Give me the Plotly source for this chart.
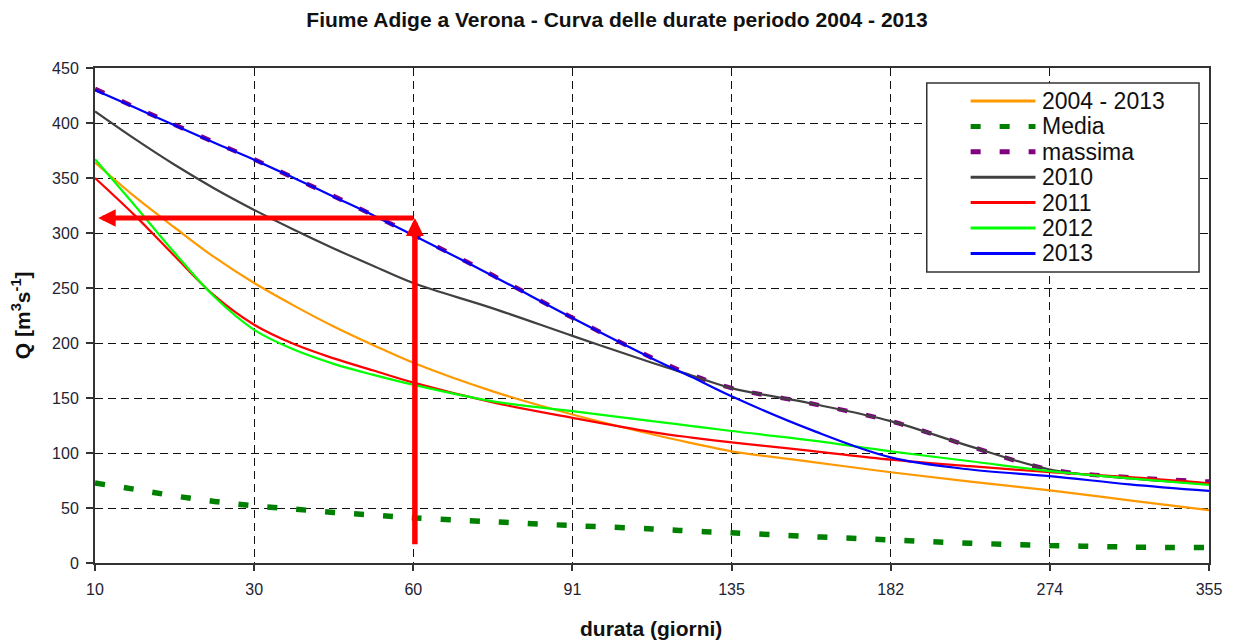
import plotly.graph_objects as go

# ---------------- data ----------------
tick_labels = ["10", "30", "60", "91", "135", "182", "274", "355"]
tick_pos = [0, 1, 2, 3, 4, 5, 6, 7]

# sample positions along the (equally spaced) duration axis
pos = [0, 0.25, 0.5, 0.75, 1, 1.25, 1.5, 1.75, 2, 2.5, 3, 3.5, 3.75, 4, 4.5, 5, 5.5, 6, 6.5, 7]

q_2004_2013 = [364, 333, 305, 278, 254.5, 234, 215, 198, 182, 156, 135, 117, 109, 101.5, 92, 82.5, 74, 66, 57, 48]
q_media = [72.7, 67, 61, 56, 52, 49, 46, 43.5, 41, 37.5, 34, 31, 29, 27.5, 24, 21, 18, 16, 14.5, 14]
q_massima = [431, 414.5, 398.5, 382.5, 367, 350, 333.5, 316, 298.5, 261.5, 223, 186.5, 171, 159, 145, 129, 106, 85, 78, 74]
q_2010 = [410.5, 385.5, 362, 340.5, 321, 303, 286, 270, 254.5, 231.5, 206.5, 182, 170.5, 159, 145, 129, 106, 85, 77, 72]
q_2011 = [350, 316, 279, 243, 216.6, 199, 186, 175, 164, 146, 132, 119, 114, 109.6, 102, 94, 88, 82.5, 78, 72.5]
q_2012 = [367, 325, 282, 242, 212, 194, 181, 171, 162, 147, 138, 129, 124.5, 120, 111.5, 101.5, 92.5, 83.5, 77, 71]
q_2013 = [430, 414, 398, 382, 366.6, 350, 333, 316, 298, 261, 222.7, 186, 169, 151.5, 121, 96, 85, 79, 71.5, 65.5]

series_names = ["2004 - 2013", "Media", "massima", "2010", "2011", "2012", "2013"]
series_values = [q_2004_2013, q_media, q_massima, q_2010, q_2011, q_2012, q_2013]
series_colors = ["#FF9900", "#008000", "#800080", "#404040", "#FF0000", "#00FF00", "#0000FF"]
series_widths = [2.2, 5.5, 4.5, 2.2, 2.2, 2.2, 2.2]
series_dash = ["solid", "10px,19px", "10px,19px", "solid", "solid", "solid", "solid"]

# red reading arrows: duration position 60 days (index 2), Q read ~314
arrow_pos = 2.01
arrow_q = 313.6
arrow_start_q = 15.7
arrow_end_pos = 0.02

FONT = "Liberation Sans, Arial, sans-serif"

fig = go.Figure()
for name, vals, col, w, d in zip(series_names, series_values, series_colors, series_widths, series_dash):
    fig.add_trace(go.Scatter(
        x=pos, y=vals, name=name, mode="lines",
        line=dict(color=col, width=w, dash=d, shape="spline", smoothing=1.0),
        showlegend=False, hoverinfo="skip",
    ))

# ---------------- layout geometry ----------------
W, H = 1234, 641
ml, mr, mt, mb = 95, 22, 68, 78
pw, ph = W - ml - mr, H - mt - mb


def px_x(p):
    return (p - ml) / pw


def px_y(p):
    return (H - mb - p) / ph


fig.update_layout(
    width=W, height=H,
    margin=dict(l=ml, r=mr, t=mt, b=mb, pad=0),
    paper_bgcolor="white", plot_bgcolor="white",
    font=dict(family=FONT, color="#222222"),
    title=dict(
        text="<b>Fiume Adige a Verona - Curva delle durate periodo 2004 - 2013</b>",
        x=0.5, xref="container", xanchor="center",
        y=1 - 20 / H, yref="container", yanchor="middle",
        font=dict(family=FONT, size=21, color="#111111"),
    ),
    xaxis=dict(
        range=[0, 7], tickmode="array", tickvals=tick_pos, ticktext=tick_labels,
        showgrid=True, gridcolor="#111111", gridwidth=1.3, griddash="8px,5px",
        showline=True, linecolor="#333333", linewidth=2, mirror=True,
        ticks="outside", ticklen=6, tickwidth=1.5, tickcolor="#333333",
        tickfont=dict(family=FONT, size=16, color="#222233"),
        ticklabelstandoff=5, zeroline=False,
    ),
    yaxis=dict(
        range=[0, 450], tickmode="linear", tick0=0, dtick=50,
        showgrid=True, gridcolor="#111111", gridwidth=1.3, griddash="8px,5px",
        showline=True, linecolor="#333333", linewidth=2, mirror=True,
        ticks="outside", ticklen=7, tickwidth=1.5, tickcolor="#333333",
        tickfont=dict(family=FONT, size=16, color="#222233"),
        ticklabelstandoff=4, zeroline=False,
    ),
)

annotations = []
shapes = []

# axis titles
annotations.append(dict(
    text="<b>durata (giorni)</b>", xref="paper", yref="paper",
    x=px_x(652), y=px_y(628), xanchor="center", yanchor="middle",
    showarrow=False, font=dict(family=FONT, size=21, color="#111111"),
))
annotations.append(dict(
    text="<b>Q [m<sup>3</sup>s<sup>-1</sup>]</b>", xref="paper", yref="paper",
    x=px_x(21), y=px_y(315), xanchor="center", yanchor="middle", textangle=-90,
    showarrow=False, font=dict(family=FONT, size=21, color="#111111"),
))

# red arrows
annotations.append(dict(
    x=arrow_end_pos, y=arrow_q, ax=arrow_pos, ay=arrow_q,
    xref="x", yref="y", axref="x", ayref="y", text="",
    showarrow=True, arrowhead=2, arrowsize=0.7, arrowwidth=5, arrowcolor="#FF0000",
    standoff=0, startstandoff=0,
))
annotations.append(dict(
    x=arrow_pos, y=arrow_q, ax=arrow_pos, ay=arrow_start_q,
    xref="x", yref="y", axref="x", ayref="y", text="",
    showarrow=True, arrowhead=2, arrowsize=0.65, arrowwidth=5.5, arrowcolor="#FF0000",
    standoff=0, startstandoff=0,
))

# manual legend box
shapes.append(dict(
    type="rect", xref="paper", yref="paper", layer="above",
    x0=px_x(929), x1=px_x(1202), y0=px_y(272), y1=px_y(83),
    fillcolor="white", line=dict(color="#333333", width=1.5),
))
row0, step = 101, 25.4
for k, (name, col, w, d) in enumerate(zip(series_names, series_colors, series_widths, series_dash)):
    yy = row0 + k * step
    shapes.append(dict(
        type="line", xref="paper", yref="paper", layer="above",
        x0=px_x(973), x1=px_x(1038), y0=px_y(yy), y1=px_y(yy),
        line=dict(color=col, width=5 if d != "solid" else 3, dash=d),
    ))
    annotations.append(dict(
        text=name, xref="paper", yref="paper", x=px_x(1043), y=px_y(yy),
        xanchor="left", yanchor="middle", showarrow=False,
        font=dict(family=FONT, size=23, color="#111111"),
    ))

fig.update_layout(annotations=annotations, shapes=shapes)
fig.write_html("out.html")
